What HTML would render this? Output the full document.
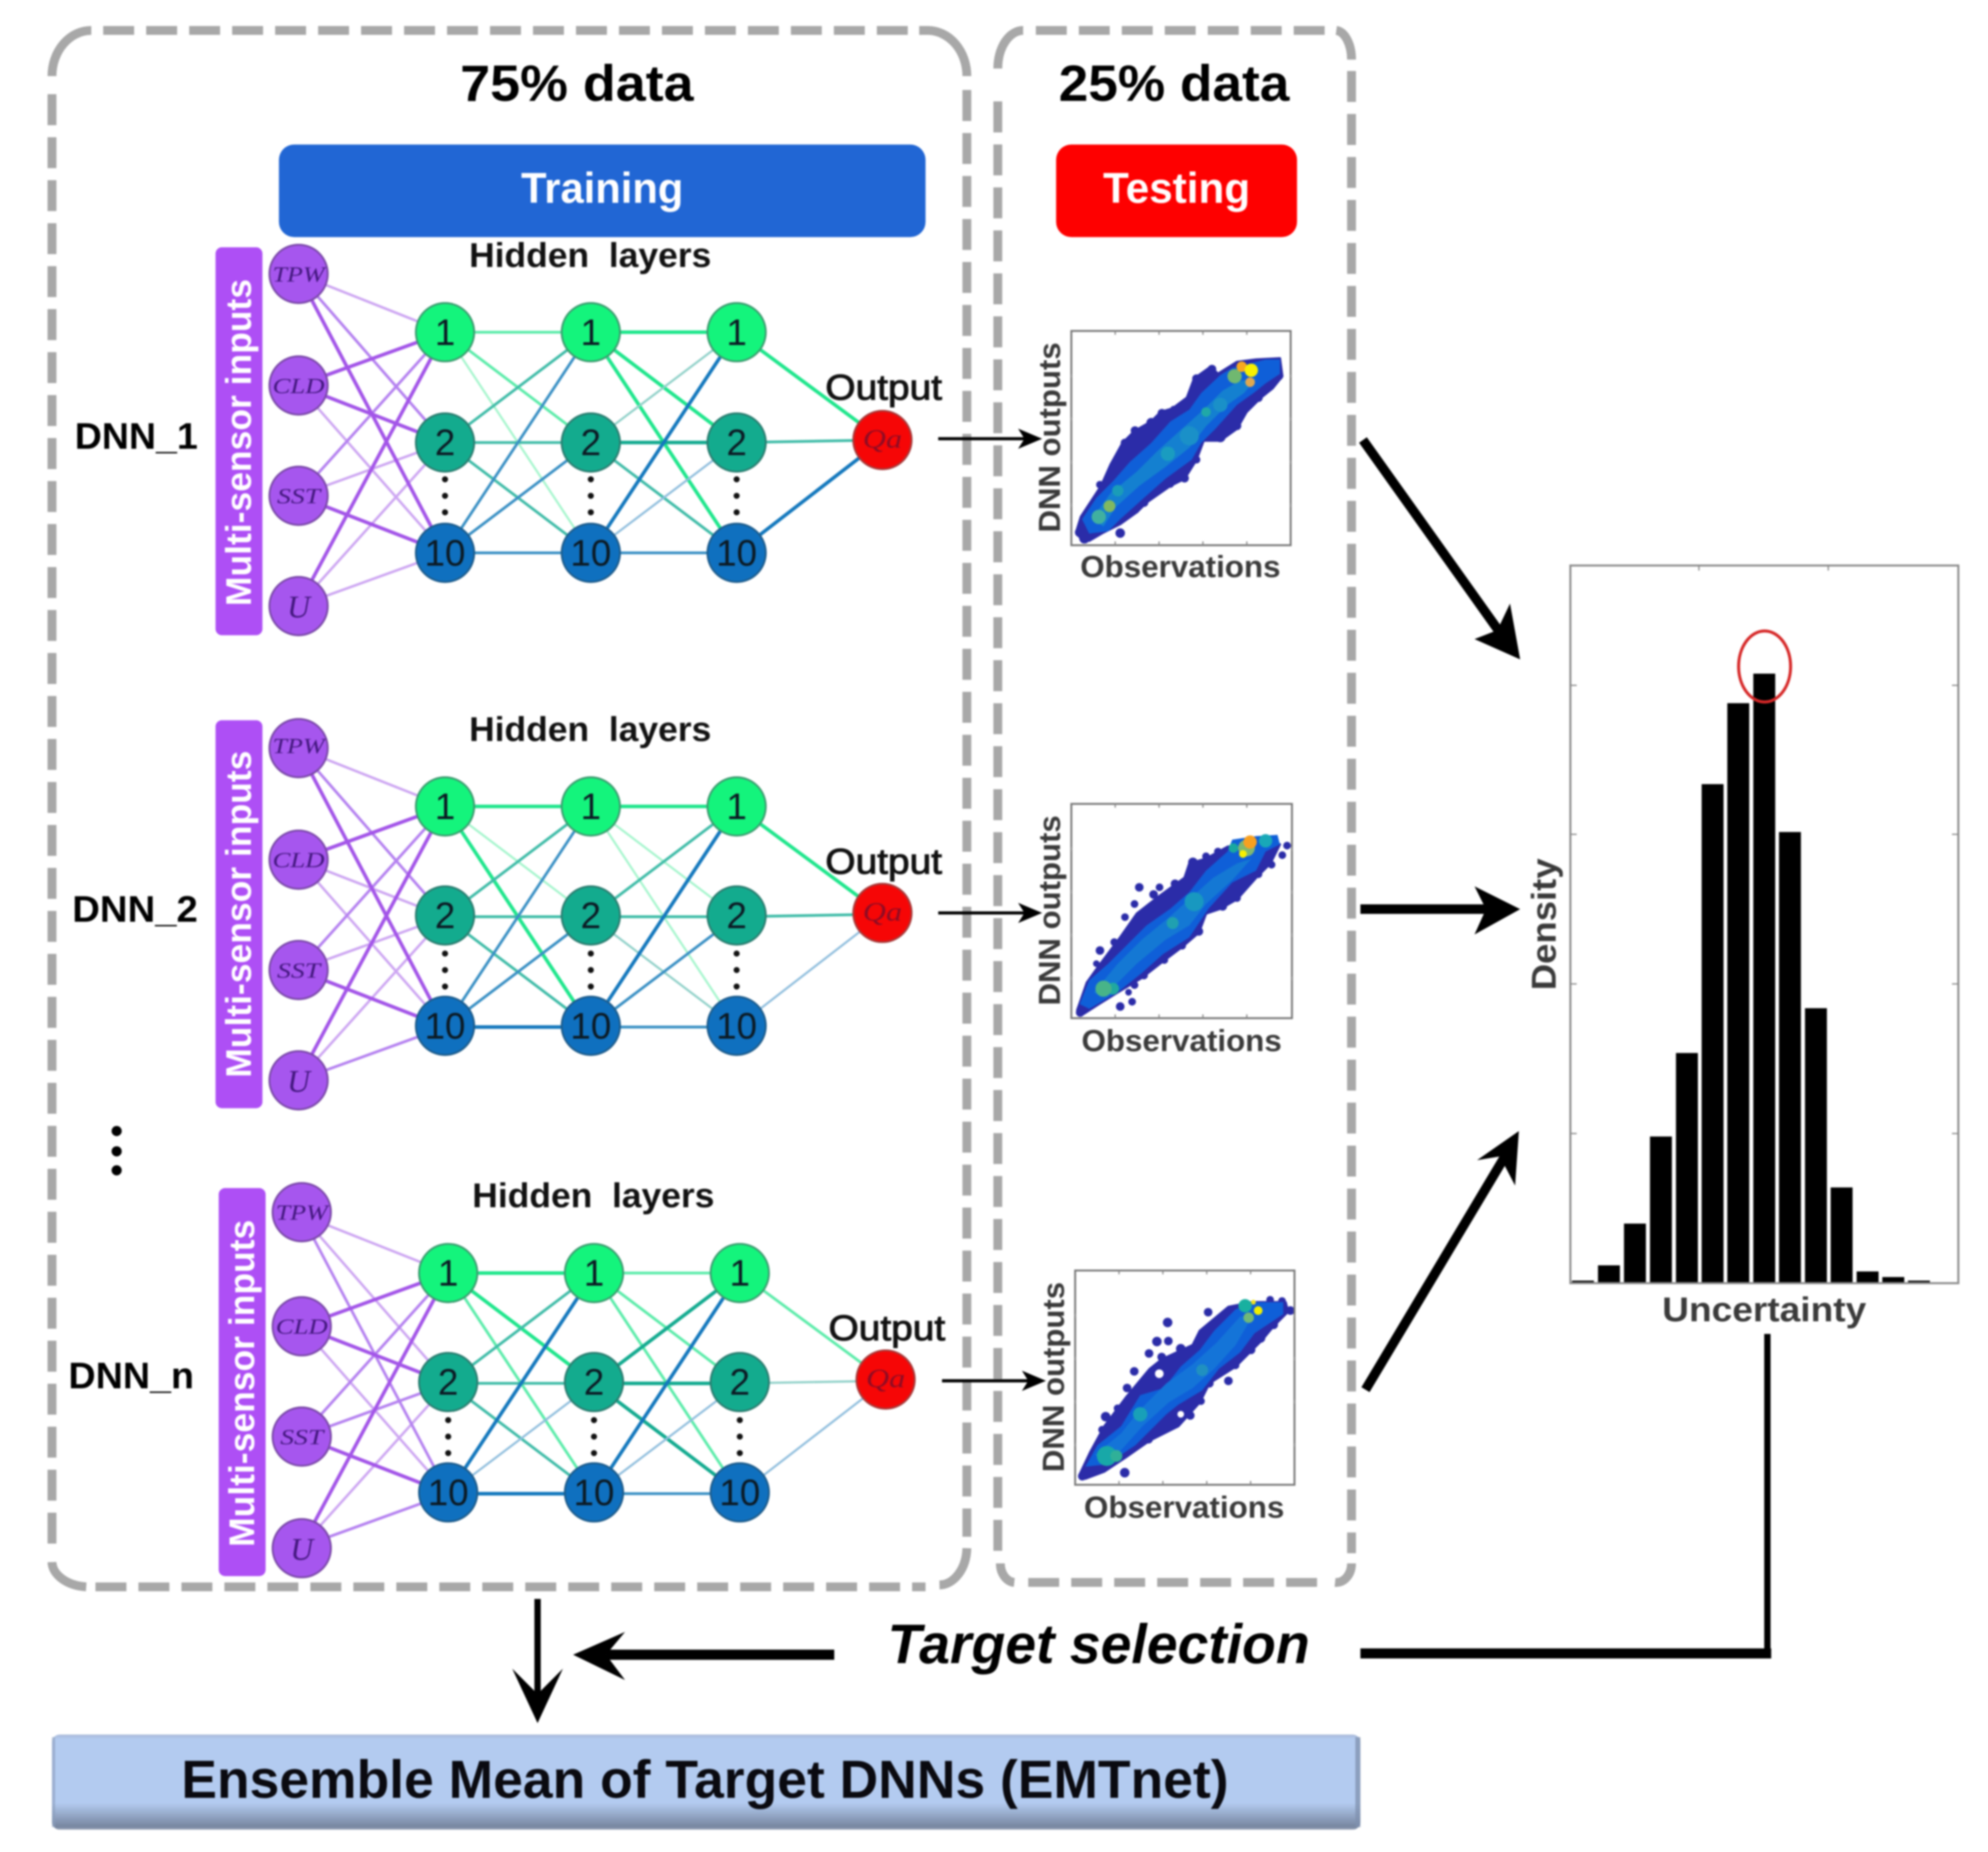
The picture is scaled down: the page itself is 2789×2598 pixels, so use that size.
<!DOCTYPE html>
<html><head><meta charset="utf-8"><style>
html,body{margin:0;padding:0;background:#fff}
svg{display:block;width:2789px;height:2598px;filter:blur(1.3px)}
text{font-family:"Liberation Sans",sans-serif;white-space:pre}
.b{font-weight:700}.m{text-anchor:middle}
.n{font-size:29px;fill:#0c1a24;text-anchor:middle}
.i{font-family:"Liberation Serif",serif;font-style:italic;fill:#43177e;text-anchor:middle}
path{fill:none}
.d{stroke:#a8a8a8;stroke-width:7;stroke-dasharray:24.4 9.5}
.a{stroke:#a8a8a8;stroke-width:7}
.p1{stroke:#cda6f2;stroke-width:2}.p2{stroke:#b582f0;stroke-width:2.2}.p3{stroke:#a355e8;stroke-width:2.8}
.g0{stroke:#a4f5cc;stroke-width:1.7}.g1{stroke:#5cecaa;stroke-width:2.2}.g2{stroke:#1fe68c;stroke-width:2.8}
.t0{stroke:#8fd0c8;stroke-width:1.7}.t1{stroke:#40bca8;stroke-width:2.2}.t2{stroke:#14ab90;stroke-width:2.8}
.b0{stroke:#90bedd;stroke-width:1.7}.b1{stroke:#3a90c4;stroke-width:2.2}.b2{stroke:#1478bd;stroke-width:2.8}
.ni{fill:#a656ee;stroke:#7a48a8;stroke-width:1.5}
.h1{fill:#14f47c;stroke:#3c9c70;stroke-width:1.5}.h2{fill:#13ab8e;stroke:#2b7d70;stroke-width:1.5}.h3{fill:#0f70bf;stroke:#1d5c8c;stroke-width:1.5}
.q{fill:#f60606;stroke:#a83a3a;stroke-width:1.5}
.k{stroke:#000;fill:none}
.tk{stroke:#888;stroke-width:1;fill:none}
.sl{fill:#3a3a3a;font-weight:700}
.nv{fill:#2b2ca8;stroke:#2b2ca8;stroke-width:10;stroke-linejoin:round}
.bl{fill:#0f5fd8}
.out{font-size:28px;fill:#111;stroke:#111;stroke-width:.7;text-anchor:middle}
</style></head><body>
<svg xmlns="http://www.w3.org/2000/svg" viewBox="0 0 1568 1460.6" width="2789" height="2598">
<defs>
<linearGradient id="bar" x1="0" y1="0" x2="0" y2="1"><stop offset="0" stop-color="#a9b9d8"/><stop offset=".05" stop-color="#b3cbf0"/><stop offset=".72" stop-color="#b3cbf0"/><stop offset=".97" stop-color="#76859f"/><stop offset="1" stop-color="#9aa6ba"/></linearGradient>
</defs>
<rect width="1568" height="1461" fill="#fff"/>

<!-- dashed boxes -->
<path class="d" d="M81.4 24H727"/>
<path class="d" d="M41 74.3V1222"/>
<path class="d" d="M762.6 71V1212"/>
<path class="d" d="M75.3 1251.5H730"/>
<path class="a" d="M41 60A31 36 0 0 1 72 24"/>
<path class="a" d="M725 24H732A31 36 0 0 1 762.6 60"/>
<path class="a" d="M41 1232A30 20 0 0 0 68 1251.5"/>
<path class="a" d="M762.6 1221A22 30 0 0 1 741 1250"/>
<path class="d" d="M817 24H1048"/>
<path class="d" d="M787 80V1225"/>
<path class="d" d="M1066 56V1225"/>
<path class="d" d="M811 1248H1045"/>
<path class="a" d="M787 54A20 30 0 0 1 807 24"/>
<path class="a" d="M1054 24A13 23 0 0 1 1066 47"/>
<path class="a" d="M789 1233A12 15 0 0 0 800 1248"/>
<path class="a" d="M1066 1233A12 15 0 0 1 1053 1248"/>

<text class="b m" x="455" y="79.5" font-size="40" textLength="184" lengthAdjust="spacingAndGlyphs">75% data</text>
<text class="b m" x="926" y="79.5" font-size="40" textLength="182" lengthAdjust="spacingAndGlyphs">25% data</text>
<rect x="220" y="114" width="510" height="73" rx="12" fill="#2166d4"/>
<text class="b m" x="475" y="160" font-size="34" fill="#fff" textLength="128" lengthAdjust="spacingAndGlyphs">Training</text>
<rect x="833" y="114" width="190" height="73" rx="12" fill="#fe0000"/>
<text class="b m" x="928" y="160" font-size="34" fill="#fff" textLength="116" lengthAdjust="spacingAndGlyphs">Testing</text>

<text class="b m" x="107.5" y="354" font-size="29" textLength="97" lengthAdjust="spacingAndGlyphs">DNN_1</text>
<text class="b m" x="106.5" y="727" font-size="29" textLength="99" lengthAdjust="spacingAndGlyphs">DNN_2</text>
<text class="b m" x="103.5" y="1095" font-size="29" textLength="99" lengthAdjust="spacingAndGlyphs">DNN_n</text>
<circle cx="92" cy="892" r="4"/><circle cx="92" cy="908" r="4"/><circle cx="92" cy="923" r="4"/>

<!-- NET 1 -->
<g>
<rect x="170" y="195" width="37" height="306" rx="5" fill="#ae4ff5"/>
<text class="b m" transform="translate(198,349) rotate(-90)" font-size="28" fill="#fff" textLength="258" lengthAdjust="spacingAndGlyphs">Multi-sensor inputs</text>
<text class="b m" x="465.5" y="210.5" font-size="27" fill="#111" textLength="191" lengthAdjust="spacingAndGlyphs">Hidden  layers</text>
<text class="out" x="697" y="315" textLength="92" lengthAdjust="spacingAndGlyphs">Output</text>
<path class="p1" d="M235 216L351 262M235 304L351 436M235 391L351 349M235 478L351 436M235 478L351 349"/>
<path class="p2" d="M235 216L351 349M235 391L351 262"/>
<path class="p3" d="M235 216L351 436M235 304L351 262M235 304L351 349M235 391L351 436M235 478L351 262"/>
<path class="g0" d="M351 262L466 436"/>
<path class="g1" d="M351 262L466 262M351 262L466 349"/>
<path class="g2" d="M466 262L581 262M466 262L581 349M466 262L581 436M581 262L696 347"/>
<path class="t0" d="M466 349L581 262"/>
<path class="t1" d="M351 349L466 262M351 349L466 349M351 349L466 436M466 349L581 436M581 349L696 347"/>
<path class="t2" d="M466 349L581 349"/>
<path class="b0" d="M466 436L581 349"/>
<path class="b1" d="M351 436L466 262M351 436L466 349M351 436L466 436M466 436L581 436"/>
<path class="b2" d="M466 436L581 262M581 436L696 347"/>
<circle class="ni" cx="235.5" cy="216" r="23"/><circle class="ni" cx="235.5" cy="304" r="23"/><circle class="ni" cx="235.5" cy="391" r="23"/><circle class="ni" cx="235.5" cy="478" r="23"/>
<text class="i" x="235.5" y="222" font-size="17" textLength="41" lengthAdjust="spacingAndGlyphs">TPW</text>
<text class="i" x="235.5" y="310" font-size="17" textLength="41" lengthAdjust="spacingAndGlyphs">CLD</text>
<text class="i" x="235.5" y="397" font-size="17" textLength="34" lengthAdjust="spacingAndGlyphs">SST</text>
<text class="i" x="235.5" y="487" font-size="25">U</text>
<circle class="h1" cx="351" cy="262" r="23"/><circle class="h2" cx="351" cy="349" r="23"/><circle class="h3" cx="351" cy="436" r="23"/>
<circle class="h1" cx="466" cy="262" r="23"/><circle class="h2" cx="466" cy="349" r="23"/><circle class="h3" cx="466" cy="436" r="23"/>
<circle class="h1" cx="581" cy="262" r="23"/><circle class="h2" cx="581" cy="349" r="23"/><circle class="h3" cx="581" cy="436" r="23"/>
<text class="n" x="351" y="272">1</text><text class="n" x="351" y="359">2</text><text class="n" x="351" y="446">10</text>
<text class="n" x="466" y="272">1</text><text class="n" x="466" y="359">2</text><text class="n" x="466" y="446">10</text>
<text class="n" x="581" y="272">1</text><text class="n" x="581" y="359">2</text><text class="n" x="581" y="446">10</text>
<g fill="#111"><circle cx="351" cy="378" r="2.4"/><circle cx="351" cy="391" r="2.4"/><circle cx="351" cy="404" r="2.4"/><circle cx="466" cy="378" r="2.4"/><circle cx="466" cy="391" r="2.4"/><circle cx="466" cy="404" r="2.4"/><circle cx="581" cy="378" r="2.4"/><circle cx="581" cy="391" r="2.4"/><circle cx="581" cy="404" r="2.4"/></g>
<circle class="q" cx="696" cy="347" r="23"/>
<text class="i" x="696" y="353" font-size="21" style="fill:#8e0c24" textLength="31" lengthAdjust="spacingAndGlyphs">Qa</text>
</g>

<!-- NET 2 -->
<g transform="translate(0,374)">
<rect x="170" y="194" width="37" height="306" rx="5" fill="#ae4ff5"/>
<text class="b m" transform="translate(198,347) rotate(-90)" font-size="28" fill="#fff" textLength="258" lengthAdjust="spacingAndGlyphs">Multi-sensor inputs</text>
<text class="b m" x="465.5" y="210.5" font-size="27" fill="#111" textLength="191" lengthAdjust="spacingAndGlyphs">Hidden  layers</text>
<text class="out" x="697" y="315" textLength="92" lengthAdjust="spacingAndGlyphs">Output</text>
<path class="p1" d="M235 216L351 262M235 304L351 436M235 304L351 349M235 478L351 349M235 391L351 349"/>
<path class="p2" d="M235 216L351 349M235 478L351 436M235 391L351 262"/>
<path class="p3" d="M235 216L351 436M235 304L351 262M235 391L351 436M235 478L351 262"/>
<path class="g0" d="M351 262L466 349M466 262L581 349M466 262L581 436"/>
<path class="g2" d="M351 262L466 262M351 262L466 436M466 262L581 262M581 262L696 347"/>
<path class="t0" d="M466 349L581 436"/>
<path class="t1" d="M351 349L466 262M351 349L466 349M351 349L466 436M466 349L581 262M466 349L581 349M581 349L696 347"/>
<path class="b0" d="M581 436L696 347"/>
<path class="b1" d="M351 436L466 262M351 436L466 349M466 436L581 349M466 436L581 436"/>
<path class="b2" d="M351 436L466 436M466 436L581 262"/>
<circle class="ni" cx="235.5" cy="216" r="23"/><circle class="ni" cx="235.5" cy="304" r="23"/><circle class="ni" cx="235.5" cy="391" r="23"/><circle class="ni" cx="235.5" cy="478" r="23"/>
<text class="i" x="235.5" y="220" font-size="17" textLength="41" lengthAdjust="spacingAndGlyphs">TPW</text>
<text class="i" x="235.5" y="310" font-size="17" textLength="41" lengthAdjust="spacingAndGlyphs">CLD</text>
<text class="i" x="235.5" y="397" font-size="17" textLength="34" lengthAdjust="spacingAndGlyphs">SST</text>
<text class="i" x="235.5" y="487" font-size="25">U</text>
<circle class="h1" cx="351" cy="262" r="23"/><circle class="h2" cx="351" cy="348" r="23"/><circle class="h3" cx="351" cy="435" r="23"/>
<circle class="h1" cx="466" cy="262" r="23"/><circle class="h2" cx="466" cy="348" r="23"/><circle class="h3" cx="466" cy="435" r="23"/>
<circle class="h1" cx="581" cy="262" r="23"/><circle class="h2" cx="581" cy="348" r="23"/><circle class="h3" cx="581" cy="435" r="23"/>
<text class="n" x="351" y="272">1</text><text class="n" x="351" y="358">2</text><text class="n" x="351" y="445">10</text>
<text class="n" x="466" y="272">1</text><text class="n" x="466" y="358">2</text><text class="n" x="466" y="445">10</text>
<text class="n" x="581" y="272">1</text><text class="n" x="581" y="358">2</text><text class="n" x="581" y="445">10</text>
<g fill="#111"><circle cx="351" cy="378" r="2.4"/><circle cx="351" cy="391" r="2.4"/><circle cx="351" cy="404" r="2.4"/><circle cx="466" cy="378" r="2.4"/><circle cx="466" cy="391" r="2.4"/><circle cx="466" cy="404" r="2.4"/><circle cx="581" cy="378" r="2.4"/><circle cx="581" cy="391" r="2.4"/><circle cx="581" cy="404" r="2.4"/></g>
<circle class="q" cx="696" cy="346" r="23"/>
<text class="i" x="696" y="352" font-size="21" style="fill:#8e0c24" textLength="31" lengthAdjust="spacingAndGlyphs">Qa</text>
</g>

<!-- NET N -->
<g transform="translate(2.5,742)">
<rect x="170" y="195" width="37" height="306" rx="5" fill="#ae4ff5"/>
<text class="b m" transform="translate(198,349) rotate(-90)" font-size="28" fill="#fff" textLength="258" lengthAdjust="spacingAndGlyphs">Multi-sensor inputs</text>
<text class="b m" x="465.5" y="210" font-size="27" fill="#111" textLength="191" lengthAdjust="spacingAndGlyphs">Hidden  layers</text>
<text class="out" x="697" y="315" textLength="92" lengthAdjust="spacingAndGlyphs">Output</text>
<path class="p1" d="M235 216L351 262M235 216L351 349M235 304L351 436M235 478L351 349"/>
<path class="p2" d="M235 216L351 436M235 391L351 262M235 391L351 349M235 478L351 436"/>
<path class="p3" d="M235 304L351 262M235 304L351 349M235 391L351 436M235 478L351 262"/>
<path class="g1" d="M351 262L466 436M466 262L581 262M466 262L581 349M466 262L581 436M581 262L696 347"/>
<path class="g2" d="M351 262L466 262M351 262L466 349"/>
<path class="t0" d="M581 349L696 347"/>
<path class="t1" d="M351 349L466 262M351 349L466 349M351 349L466 436"/>
<path class="t2" d="M466 349L581 262M466 349L581 349M466 349L581 436"/>
<path class="b0" d="M351 436L466 349M466 436L581 349M581 436L696 347"/>
<path class="b1" d="M466 436L581 436"/>
<path class="b2" d="M351 436L466 262M351 436L466 436M466 436L581 262"/>
<circle class="ni" cx="235.5" cy="214" r="23"/><circle class="ni" cx="235.5" cy="304" r="23"/><circle class="ni" cx="235.5" cy="391" r="23"/><circle class="ni" cx="235.5" cy="479" r="23"/>
<text class="i" x="235.5" y="220" font-size="17" textLength="41" lengthAdjust="spacingAndGlyphs">TPW</text>
<text class="i" x="235.5" y="310" font-size="17" textLength="41" lengthAdjust="spacingAndGlyphs">CLD</text>
<text class="i" x="235.5" y="397" font-size="17" textLength="34" lengthAdjust="spacingAndGlyphs">SST</text>
<text class="i" x="235.5" y="488" font-size="25">U</text>
<circle class="h1" cx="351" cy="262" r="23"/><circle class="h2" cx="351" cy="348" r="23"/><circle class="h3" cx="351" cy="435" r="23"/>
<circle class="h1" cx="466" cy="262" r="23"/><circle class="h2" cx="466" cy="348" r="23"/><circle class="h3" cx="466" cy="435" r="23"/>
<circle class="h1" cx="581" cy="262" r="23"/><circle class="h2" cx="581" cy="348" r="23"/><circle class="h3" cx="581" cy="435" r="23"/>
<text class="n" x="351" y="272">1</text><text class="n" x="351" y="358">2</text><text class="n" x="351" y="445">10</text>
<text class="n" x="466" y="272">1</text><text class="n" x="466" y="358">2</text><text class="n" x="466" y="445">10</text>
<text class="n" x="581" y="272">1</text><text class="n" x="581" y="358">2</text><text class="n" x="581" y="445">10</text>
<g fill="#111"><circle cx="351" cy="378" r="2.4"/><circle cx="351" cy="391" r="2.4"/><circle cx="351" cy="404" r="2.4"/><circle cx="466" cy="378" r="2.4"/><circle cx="466" cy="391" r="2.4"/><circle cx="466" cy="404" r="2.4"/><circle cx="581" cy="378" r="2.4"/><circle cx="581" cy="391" r="2.4"/><circle cx="581" cy="404" r="2.4"/></g>
<circle class="q" cx="696" cy="346" r="23"/>
<text class="i" x="696" y="352" font-size="21" style="fill:#8e0c24" textLength="31" lengthAdjust="spacingAndGlyphs">Qa</text>
</g>

<!-- SCATTER 1 -->
<g transform="translate(845,261)">
<g transform="scale(.188) translate(-225,-70)">
<polygon class="nv" points="245,915 265,850 350,720 390,630 440,540 490,490 560,450 600,410 650,395 710,350 740,270 810,220 840,250 920,200 1000,190 1100,185 1110,260 1070,310 1020,350 960,410 920,480 850,530 780,530 750,610 700,690 640,720 540,790 500,830 430,880 360,915 300,950 260,935"/>
<g fill="#2b2ca8"><circle cx="430" cy="918" r="20"/><circle cx="700" cy="688" r="18"/><circle cx="640" cy="712" r="16"/><circle cx="920" cy="468" r="18"/><circle cx="850" cy="515" r="22"/><circle cx="492" cy="488" r="18"/><circle cx="605" cy="415" r="18"/><circle cx="815" cy="230" r="18"/><circle cx="280" cy="940" r="22"/><circle cx="260" cy="915" r="20"/><circle cx="450" cy="540" r="18"/><circle cx="410" cy="630" r="20"/><circle cx="345" cy="715" r="16"/><circle cx="560" cy="455" r="20"/><circle cx="655" cy="400" r="16"/><circle cx="750" cy="270" r="18"/><circle cx="1095" cy="260" r="18"/><circle cx="1010" cy="350" r="18"/><circle cx="750" cy="610" r="16"/><circle cx="530" cy="790" r="18"/><circle cx="495" cy="820" r="16"/></g>
<polygon class="bl" points="270,860 330,770 400,700 470,620 560,540 640,450 720,400 770,330 850,255 900,225 1040,190 1100,190 1100,250 1040,290 990,330 920,380 830,480 770,540 730,610 620,690 530,770 430,860 380,910 300,920"/>
<polygon fill="#1480d0" points="310,860 390,750 500,660 590,570 690,480 780,400 860,320 930,280 1000,270 950,330 880,380 790,470 720,560 620,640 510,720 410,810 360,890"/>
<circle cx="630" cy="585" r="30" fill="#1a9cc0"/><circle cx="720" cy="510" r="40" fill="#1a90c8"/><circle cx="420" cy="740" r="24" fill="#1a9cb8"/><circle cx="850" cy="380" r="30" fill="#1a90c8"/>
<circle cx="340" cy="850" r="30" fill="#40b0a0"/><circle cx="385" cy="805" r="25" fill="#80b860"/><circle cx="790" cy="410" r="20" fill="#20a8a8"/><circle cx="910" cy="260" r="30" fill="#70b870"/><circle cx="940" cy="220" r="22" fill="#f8a820"/><circle cx="975" cy="285" r="20" fill="#e0a850"/><circle cx="980" cy="235" r="28" fill="#f8f000"/>
</g>
<rect width="173" height="169" fill="none" stroke="#777" stroke-width="1.5"/>
<path class="tk" d="M34.6 0v3M69.2 0v3M103.8 0v3M138.4 0v3M34.6 169v-3M69.2 169v-3M103.8 169v-3M138.4 169v-3M0 34v3M0 68v3M0 102v3M0 136v3M173 34v3M173 68v3M173 102v3M173 136v3"/>
<text class="sl m" x="86" y="194" font-size="24" textLength="158" lengthAdjust="spacingAndGlyphs">Observations</text>
<text class="sl m" transform="translate(-9,84) rotate(-90)" font-size="24" textLength="150" lengthAdjust="spacingAndGlyphs">DNN outputs</text>
</g>

<!-- SCATTER 2 -->
<g transform="translate(845,634)">
<g transform="scale(.188) translate(-225,-50)">
<polygon class="nv" points="250,915 290,800 340,730 430,610 500,510 590,440 700,360 720,300 790,280 880,230 1000,210 1100,220 1060,300 1000,360 920,450 850,490 790,510 760,590 690,650 610,710 520,780 420,840 340,890 270,935"/>
<g fill="#2b2ca8"><circle cx="262" cy="925" r="18"/><circle cx="510" cy="400" r="18"/><circle cx="430" cy="900" r="18"/><circle cx="480" cy="880" r="16"/><circle cx="465" cy="840" r="14"/><circle cx="345" cy="665" r="18"/><circle cx="330" cy="720" r="14"/><circle cx="405" cy="630" r="16"/><circle cx="450" cy="525" r="16"/><circle cx="490" cy="470" r="16"/><circle cx="570" cy="430" r="18"/><circle cx="595" cy="400" r="16"/><circle cx="660" cy="385" r="18"/><circle cx="735" cy="295" r="20"/><circle cx="790" cy="270" r="16"/><circle cx="840" cy="250" r="16"/><circle cx="1130" cy="225" r="16"/><circle cx="1110" cy="265" r="16"/><circle cx="1065" cy="305" r="16"/><circle cx="1010" cy="345" r="16"/><circle cx="920" cy="445" r="16"/><circle cx="860" cy="480" r="18"/><circle cx="760" cy="585" r="18"/><circle cx="690" cy="645" r="16"/><circle cx="650" cy="660" r="16"/><circle cx="615" cy="705" r="16"/><circle cx="530" cy="770" r="16"/><circle cx="490" cy="810" r="16"/></g>
<polygon class="bl" points="260,890 300,790 380,720 460,640 540,560 640,490 720,420 790,330 880,250 900,200 1000,185 1090,180 1100,220 1040,250 1000,330 900,380 800,490 720,610 610,680 520,760 420,840 300,910"/>
<polygon fill="#1478d4" points="320,840 420,720 520,620 630,530 720,450 820,360 920,300 980,280 900,370 790,470 720,560 620,620 500,720 420,800 350,860"/>
<circle cx="650" cy="550" r="25" fill="#20a0b0"/><circle cx="740" cy="460" r="40" fill="#1898c0"/><circle cx="1040" cy="205" r="28" fill="#18a8b8"/><circle cx="905" cy="235" r="20" fill="#18a8a0"/>
<circle cx="400" cy="825" r="25" fill="#20a8a0"/><circle cx="360" cy="825" r="34" fill="#48b488"/><circle cx="960" cy="235" r="35" fill="#80b870"/><circle cx="975" cy="210" r="28" fill="#f8a020"/><circle cx="945" cy="260" r="16" fill="#f8f000"/>
</g>
<rect width="174" height="169" fill="none" stroke="#777" stroke-width="1.5"/>
<path class="tk" d="M34.6 0v3M69.2 0v3M103.8 0v3M138.4 0v3M34.6 169v-3M69.2 169v-3M103.8 169v-3M138.4 169v-3M0 34v3M0 68v3M0 102v3M0 136v3M174 34v3M174 68v3M174 102v3M174 136v3"/>
<text class="sl m" x="87" y="195" font-size="24" textLength="158" lengthAdjust="spacingAndGlyphs">Observations</text>
<text class="sl m" transform="translate(-9,84) rotate(-90)" font-size="24" textLength="150" lengthAdjust="spacingAndGlyphs">DNN outputs</text>
</g>

<!-- SCATTER 3 -->
<g transform="translate(848,1002)">
<g transform="scale(.188) translate(-207,-37)">
<polygon class="nv" points="225,895 270,800 330,690 420,570 520,450 570,410 700,350 730,290 850,190 950,170 1090,170 1100,210 1040,270 990,330 930,390 880,440 770,510 730,590 640,690 520,750 420,820 330,880 250,910"/>
<g fill="#2b2ca8"><circle cx="237" cy="900" r="18"/><circle cx="415" cy="885" r="20"/><circle cx="595" cy="255" r="20"/><circle cx="765" cy="212" r="18"/><circle cx="550" cy="335" r="20"/><circle cx="598" cy="333" r="18"/><circle cx="517" cy="385" r="18"/><circle cx="570" cy="400" r="18"/><circle cx="455" cy="460" r="18"/><circle cx="425" cy="530" r="18"/><circle cx="385" cy="615" r="16"/><circle cx="335" cy="650" r="20"/><circle cx="320" cy="705" r="16"/><circle cx="650" cy="365" r="20"/><circle cx="1110" cy="205" r="18"/><circle cx="1075" cy="165" r="16"/><circle cx="1025" cy="160" r="16"/><circle cx="1040" cy="265" r="18"/><circle cx="985" cy="320" r="20"/><circle cx="945" cy="370" r="18"/><circle cx="880" cy="435" r="16"/><circle cx="850" cy="500" r="18"/><circle cx="770" cy="510" r="18"/><circle cx="735" cy="585" r="16"/><circle cx="690" cy="645" r="18"/><circle cx="630" cy="680" r="16"/><circle cx="575" cy="705" r="18"/><circle cx="515" cy="745" r="18"/></g>
<circle cx="560" cy="470" r="18" fill="#fff"/><circle cx="650" cy="640" r="14" fill="#fff"/>
<polygon class="bl" points="250,860 300,770 400,690 480,560 580,530 650,440 730,370 790,290 880,200 960,170 1080,170 1080,220 1020,260 960,300 900,380 810,450 740,540 640,600 590,640 460,770 340,850"/>
<polygon fill="#1474d8" points="290,810 400,720 480,620 590,510 700,430 800,340 900,230 950,230 880,350 790,450 700,530 600,590 490,690 400,790 340,840"/>
<circle cx="480" cy="640" r="30" fill="#18a0b8"/><circle cx="740" cy="455" r="25" fill="#2090c0"/><circle cx="340" cy="815" r="42" fill="#18a8a8"/><circle cx="380" cy="815" r="25" fill="#30b098"/><circle cx="920" cy="185" r="28" fill="#18b0a0"/><circle cx="935" cy="235" r="22" fill="#70b878"/><circle cx="975" cy="205" r="18" fill="#f0f000"/><circle cx="955" cy="170" r="10" fill="#f0e020"/>
</g>
<rect width="173" height="169" fill="none" stroke="#777" stroke-width="1.5"/>
<path class="tk" d="M34.6 0v3M69.2 0v3M103.8 0v3M138.4 0v3M34.6 169v-3M69.2 169v-3M103.8 169v-3M138.4 169v-3M0 34v3M0 68v3M0 102v3M0 136v3M173 34v3M173 68v3M173 102v3M173 136v3"/>
<text class="sl m" x="86" y="195" font-size="24" textLength="158" lengthAdjust="spacingAndGlyphs">Observations</text>
<text class="sl m" transform="translate(-9,84) rotate(-90)" font-size="24" textLength="150" lengthAdjust="spacingAndGlyphs">DNN outputs</text>
</g>

<!-- SMALL ARROWS -->
<path class="k" stroke-width="2.5" d="M740 346H812"/><polygon points="822,346 803,338 808,346 803,354"/>
<path class="k" stroke-width="2.5" d="M740 720H812"/><polygon points="822,720 803,712 808,720 803,728"/>
<path class="k" stroke-width="2.5" d="M743 1089H815"/><polygon points="825,1089 806,1081 811,1089 806,1097"/>

<!-- BIG ARROWS -->
<path class="k" stroke-width="7.5" d="M1075 347L1186 503"/><polygon points="1199,520 1191,476 1181,497 1163,504"/>
<path class="k" stroke-width="7.5" d="M1073 717H1180"/><polygon points="1199,717 1163,699 1172,717 1163,737"/>
<path class="k" stroke-width="7.5" d="M1077 1096L1187 912"/><polygon points="1198,892 1165,915 1183,912 1195,935"/>

<!-- HISTOGRAM -->
<g fill="#000">
<g transform="translate(1180.6,438.5) scale(.247,.4016)">
<rect x="240" y="1423" width="70" height="5"/><rect x="323" y="1393" width="70" height="35"/><rect x="406" y="1311" width="70" height="117"/><rect x="489" y="1140" width="70" height="288"/><rect x="572" y="976" width="70" height="452"/><rect x="654" y="448" width="70" height="980"/><rect x="736" y="289" width="70" height="1139"/><rect x="819" y="231" width="70" height="1197"/><rect x="901" y="542" width="70" height="886"/><rect x="984" y="888" width="70" height="540"/><rect x="1066" y="1240" width="70" height="188"/><rect x="1149" y="1405" width="70" height="23"/><rect x="1231" y="1416" width="70" height="12"/><rect x="1313" y="1423" width="70" height="5"/>
</g></g>
<rect x="1238.6" y="446" width="306" height="566" fill="none" stroke="#8c8c8c" stroke-width="1.6"/>
<path class="tk" d="M1340 446v4M1442 446v4M1238.6 540.5h5M1238.6 658h5M1238.6 776h5M1238.6 894h5M1544.6 540.5h-5M1544.6 658h-5M1544.6 776h-5M1544.6 894h-5"/>
<ellipse cx="1391.8" cy="525.6" rx="20.5" ry="28" fill="none" stroke="#d62828" stroke-width="2.4"/>
<text class="sl m" transform="translate(1227,729) rotate(-90)" font-size="27" textLength="104" lengthAdjust="spacingAndGlyphs">Density</text>
<text class="sl m" x="1391.5" y="1042" font-size="27" textLength="161" lengthAdjust="spacingAndGlyphs">Uncertainty</text>

<!-- BOTTOM CONNECTORS -->
<path class="k" stroke-width="5" d="M1394 1052V1304"/>
<path class="k" stroke-width="8" d="M1073 1304H1397"/>
<path class="k" stroke-width="8" d="M658 1305H478"/><polygon points="452,1305 493,1287 478,1305 493,1325"/>
<path class="k" stroke-width="5" d="M424 1261V1340"/><polygon points="424,1359 404,1316 424,1336 444,1316"/>
<text class="b m" x="866.5" y="1311.5" font-size="44" font-style="italic" textLength="333" lengthAdjust="spacingAndGlyphs">Target selection</text>

<rect x="41" y="1368" width="1032" height="75" rx="6" fill="url(#bar)"/>
<rect x="1069" y="1370" width="4" height="71" fill="#7f90ad" opacity=".75"/>
<rect x="41" y="1370" width="2.5" height="71" fill="#8b9cbb" opacity=".6"/>
<text class="b m" x="556" y="1418" font-size="42" fill="#0a0a10" textLength="826" lengthAdjust="spacingAndGlyphs">Ensemble Mean of Target DNNs (EMTnet)</text>
</svg>
</body></html>
